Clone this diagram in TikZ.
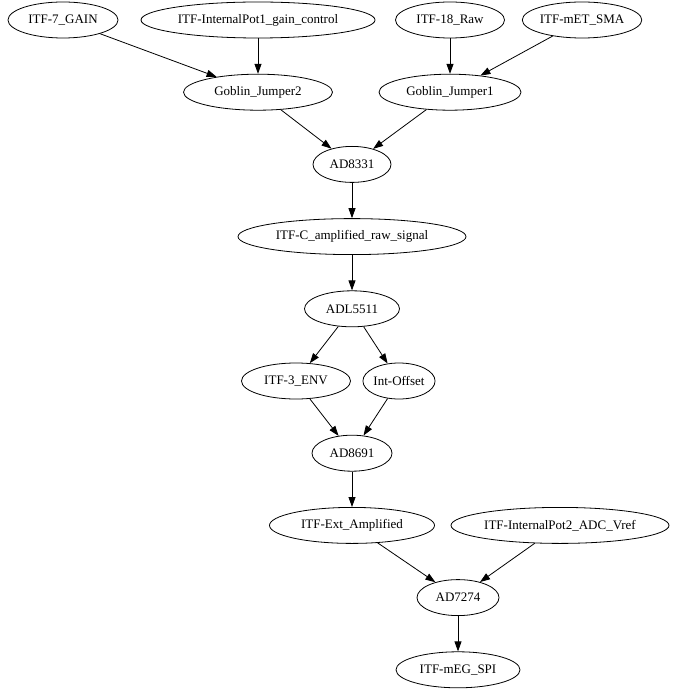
\documentclass[tikz,border=0pt]{standalone}
\usepackage{fontspec}
\setmainfont{Liberation Serif}
\usetikzlibrary{shapes.geometric,arrows.meta}
\tikzset{
  nd/.style={ellipse, draw, line width=0.8pt, inner sep=0pt, minimum height=36pt, font=\fontsize{13}{15}\selectfont},
  ed/.style={line width=0.8pt, -{Triangle[length=10pt,width=7pt]}}
}
\begin{document}
\begin{tikzpicture}[x=1pt,y=-1pt]
\useasboundingbox (0,0) rectangle (683,692);
\node[nd, minimum width=110pt] (gain) at (63,20) {ITF-7\_GAIN};
\node[nd, minimum width=234pt] (pot1) at (258,20) {ITF-InternalPot1\_gain\_control};
\node[nd, minimum width=109pt] (raw) at (450,20) {ITF-18\_Raw};
\node[nd, minimum width=111pt] (sma) at (582,20) {ITF-mET\_SMA};
\node[nd, minimum width=149pt] (gj2) at (258,92.2) {Goblin\_Jumper2};
\node[nd, minimum width=142pt] (gj1) at (450,92.2) {Goblin\_Jumper1};
\node[nd, minimum width=78pt] (ad8331) at (352,164.4) {AD8331};
\node[nd, minimum width=228pt] (camp) at (352,236.6) {ITF-C\_amplified\_raw\_signal};
\node[nd, minimum width=95pt] (adl) at (352,308.8) {ADL5511};
\node[nd, minimum width=109pt] (env) at (296,381) {ITF-3\_ENV};
\node[nd, minimum width=62pt] (off) at (399,381) {Int-Offset};
\node[nd, minimum width=80pt] (ad8691) at (352,453.2) {AD8691};
\node[nd, minimum width=165pt] (ext) at (352,525.4) {ITF-Ext\_Amplified};
\node[nd, minimum width=218pt] (pot2) at (560,525.4) {ITF-InternalPot2\_ADC\_Vref};
\node[nd, minimum width=82pt] (ad7274) at (458,597.6) {AD7274};
\node[nd, minimum width=124pt] (spi) at (458,669.8) {ITF-mEG\_SPI};
\draw[ed] (gain) -- (gj2);
\draw[ed] (pot1) -- (gj2);
\draw[ed] (raw) -- (gj1);
\draw[ed] (sma) -- (gj1);
\draw[ed] (gj2) -- (ad8331);
\draw[ed] (gj1) -- (ad8331);
\draw[ed] (ad8331) -- (camp);
\draw[ed] (camp) -- (adl);
\draw[ed] (adl) -- (env);
\draw[ed] (adl) -- (off);
\draw[ed] (env) -- (ad8691);
\draw[ed] (off) -- (ad8691);
\draw[ed] (ad8691) -- (ext);
\draw[ed] (ext) -- (ad7274);
\draw[ed] (pot2) -- (ad7274);
\draw[ed] (ad7274) -- (spi);
\end{tikzpicture}
\end{document}
